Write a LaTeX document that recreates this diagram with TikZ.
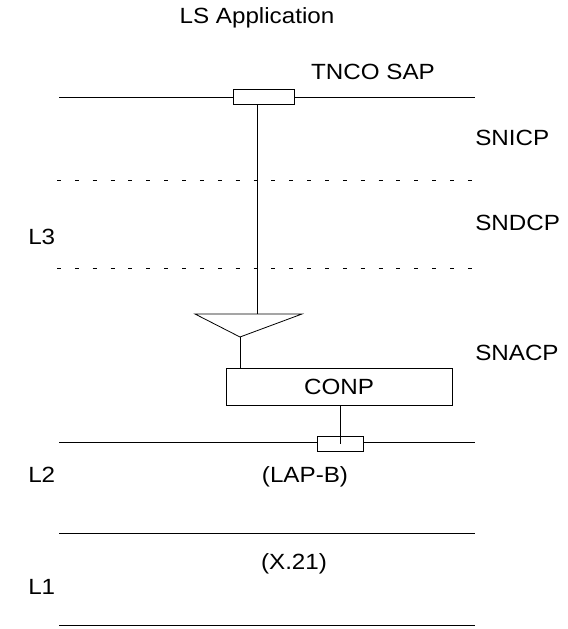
\documentclass[tikz,border=0pt]{standalone}
\usepackage{fontspec}
\setmainfont{Liberation Sans}[FakeStretch=1.1]
\usetikzlibrary{positioning}
\tikzset{
  layerLine/.style={draw, line width=0.6pt},
  subLine/.style={draw, line width=0.6pt, dash pattern=on 3pt off 10.4pt},
  sapBox/.style={draw, line width=0.6pt, fill=white, inner sep=0pt, minimum height=11.25pt},
  protoBox/.style={draw, line width=0.6pt, inner sep=0pt, minimum width=169.5pt, minimum height=27.75pt, font=\fontsize{16.5}{19}\selectfont},
  lbl/.style={font=\fontsize{16.5}{19}\selectfont, inner sep=0pt, text height=0.72em, text depth=0pt}
}

\begin{document}
\begin{tikzpicture}[x=0.75pt, y=-0.75pt]
\useasboundingbox (0,0) rectangle (568,629);

% layer boundaries
\draw[layerLine] (59,97) -- (475,97);
\draw[subLine] (57,180) -- (473,180);
\draw[subLine] (57,268) -- (473,268);
\draw[layerLine] (59,442.5) -- (475,442.5);
\draw[layerLine] (59,533) -- (475,533);
\draw[layerLine] (59,625) -- (475,625);

% labels
\node[lbl] (lsApp) at (257,18.5) {LS Application};
\node[lbl] (tncoLbl) at (373,74.5) {TNCO SAP};
\node[lbl, anchor=west] (snicp) at (475,141) {SNICP};
\node[lbl, anchor=west] (sndcp) at (475,226) {SNDCP};
\node[lbl, anchor=west] (snacp) at (475,356) {SNACP};
\node[lbl, anchor=west] (lThree) at (28,240) {L3};
\node[lbl, anchor=west] (lTwo) at (28,478) {L2};
\node[lbl, anchor=west] (lOne) at (28,590) {L1};
\node[lbl] (lapb) at (305,478) {(LAP-B)};
\node[lbl] (xtwo) at (294,565) {(X.21)};

% entities
\node[sapBox, minimum width=45.75pt] (tncoSap) at (263.5,97) {};
\node[protoBox] (conp) at (339,386.5) {CONP};
\coordinate (triTop) at (257,314);
\coordinate (apex) at (240,337);
\draw[line width=0.6pt] (195,314) -- (302,314) -- (apex) -- cycle;
\draw[line width=0.6pt] (triTop |- tncoSap.south) -- (triTop);
\draw[line width=0.6pt] (apex) -- (apex |- conp.north);
\node[sapBox, minimum width=34.5pt] (conpSap) at (340,443.5) {};
\draw[line width=0.6pt] (conpSap |- conp.south) -- (conpSap.center);
\end{tikzpicture}
\end{document}
